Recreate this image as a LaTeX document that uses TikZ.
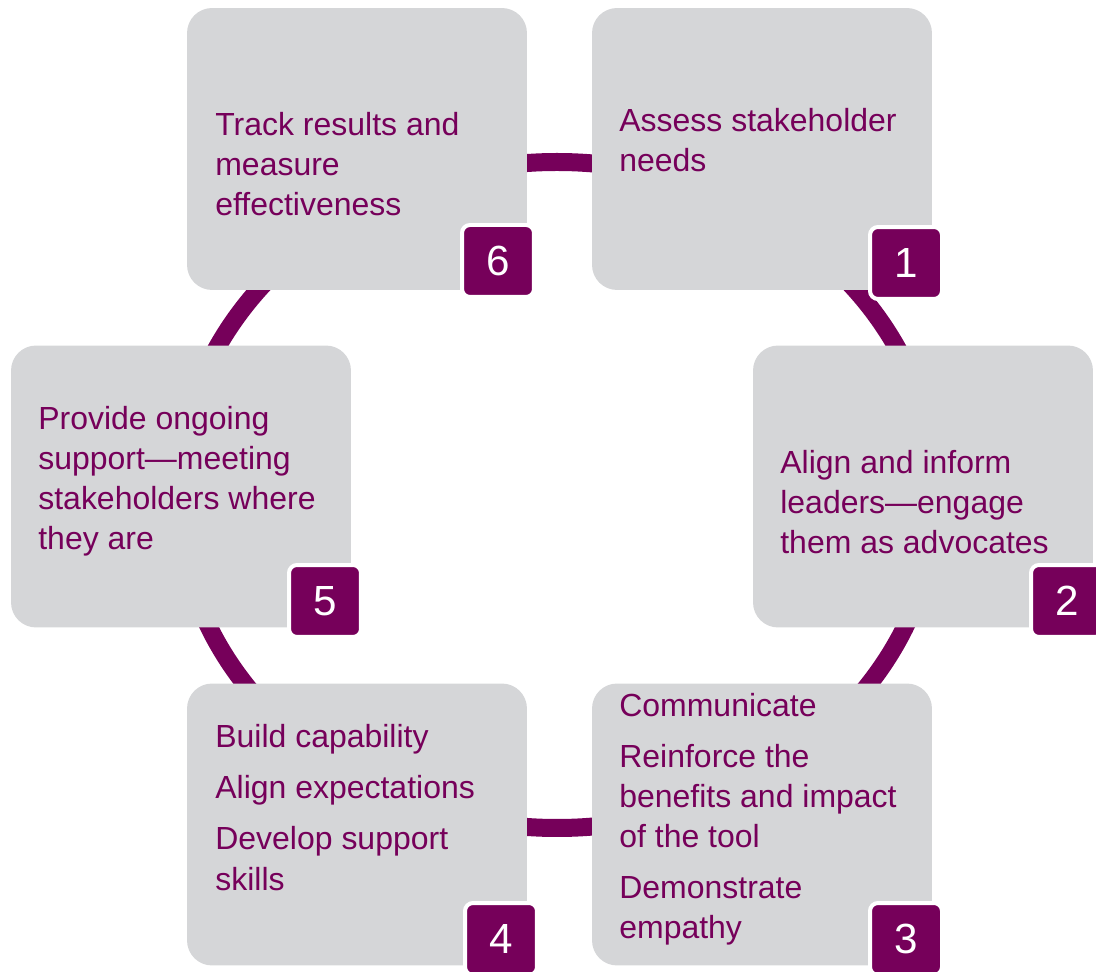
\documentclass[tikz,border=0pt]{standalone}
\usepackage{fontspec}
\setmainfont{Liberation Sans}
\definecolor{plum}{RGB}{118,0,90}
\definecolor{boxgray}{RGB}{213,214,216}
\pgfdeclarelayer{bg}
\pgfsetlayers{bg,main}
\tikzset{
    stage/.style={rectangle, fill=boxgray, rounded corners=0.5cm, minimum width=6.8cm, minimum height=5.64cm, inner sep=0mm},
    badge/.style={rectangle, fill=plum, draw=white, line width=0.08cm, rounded corners=0.16cm, minimum size=1.44cm, inner sep=0mm, text=white, font=\fontsize{24}{24}\selectfont},
    stagetext/.style={anchor=base west, align=left, inner sep=0mm, text=plum, font=\fontsize{18.2}{22.8}\selectfont},
    ring/.style={draw=plum, line width=0.36cm}
}

\begin{document}
\begin{tikzpicture}[x=0.02cm, y=-0.02cm]
        \useasboundingbox (0,0) rectangle (1096,972);
        \node (s1) [stage] at (762, 149) {};
        \node (s2) [stage] at (923, 486.5) {};
        \node (s3) [stage] at (762, 824.5) {};
        \node (s4) [stage] at (357, 824.5) {};
        \node (s5) [stage] at (181, 486.5) {};
        \node (s6) [stage] at (357, 149) {};
        \node (n1) [badge] at (906, 263) {1};
        \node (n2) [badge] at (1067, 601) {2};
        \node (n3) [badge] at (906, 939) {3};
        \node (n4) [badge] at (501, 939) {4};
        \node (n5) [badge] at (325, 601) {5};
        \node (n6) [badge] at (498, 261) {6};
        % text nodes sit on the baseline of their last line
        \node (t1) [stagetext] at (619, 172) {Assess stakeholder\\needs};
        \node (t2) [stagetext] at (780, 554) {Align and inform\\leaders---engage\\them as advocates};
        \node (t3) [stagetext] at (619, 939) {Communicate\\[0.22cm]Reinforce the\\benefits and impact\\of the tool\\[0.22cm]Demonstrate\\empathy};
        \node (t4) [stagetext] at (215, 890) {Build capability\\[0.22cm]Align expectations\\[0.22cm]Develop support\\skills};
        \node (t5) [stagetext] at (38, 550) {Provide ongoing\\support---meeting\\stakeholders where\\they are};
        \node (t6) [stagetext] at (215, 216) {Track results and\\measure\\effectiveness};
        \begin{pgfonlayer}{bg}
                \draw [ring] (557, 495) ellipse [x radius=379, y radius=333];
        \end{pgfonlayer}
\end{tikzpicture}
\end{document}
